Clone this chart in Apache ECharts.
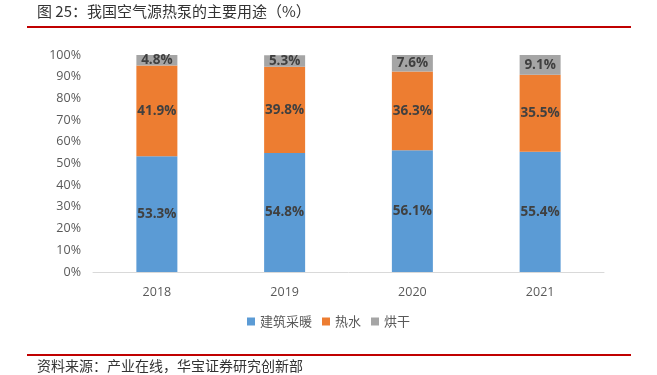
<!DOCTYPE html>
<html><head><meta charset="utf-8">
<script src="https://cdn.jsdelivr.net/npm/echarts@6/dist/echarts.min.js"></script>
<style>html,body{margin:0;padding:0;background:#fff}#c{width:657px;height:375px}</style>
</head><body><div id="c"></div>
<script>
const categories = ['2018', '2019', '2020', '2021'];
const heating = [53.3, 54.8, 56.1, 55.4];
const hotWater = [41.9, 39.8, 36.3, 35.5];
const drying = [4.8, 5.3, 7.6, 9.1];
const seriesNames = ['建筑采暖', '热水', '烘干'];
const yTicks = [0, 10, 20, 30, 40, 50, 60, 70, 80, 90, 100];

const chart = echarts.init(document.getElementById('c'));
const labelCfg = {
  show: true, position: 'inside', formatter: p => p.value.toFixed(1) + '%',
  color: '#404040', fontWeight: 'bold', fontSize: 13.5, fontFamily: 'Open Sans, sans-serif'
};
const colors = ['#5B9BD5', '#ED7D31', '#A5A5A5'];
const datas = [heating, hotWater, drying];
chart.setOption({
  animation: false,
  graphic: [
    {type: 'text', left: 37, top: 4, style: {text: '图 25：我国空气源热泵的主要用途（%）', fill: '#333', font: '15px "Noto Sans CJK SC"'}},
    {type: 'rect', shape: {x: 27, y: 26, width: 604, height: 2}, style: {fill: '#C00000'}},
    {type: 'rect', shape: {x: 27, y: 354, width: 604, height: 2}, style: {fill: '#C00000'}},
    {type: 'text', left: 37, top: 359, style: {text: '资料来源：产业在线，华宝证券研究创新部', fill: '#333', font: '14px "Noto Sans CJK SC"'}}
  ],
  grid: {left: 93, right: 53, top: 55, bottom: 103},
  legend: {
    data: seriesNames, bottom: 42, left: 'center', itemWidth: 8, itemHeight: 8, itemGap: 10,
    icon: 'rect', textStyle: {color: '#595959', fontSize: 13, fontFamily: 'Noto Sans CJK SC'}
  },
  xAxis: {
    type: 'category', data: categories,
    axisLine: {lineStyle: {color: '#D9D9D9'}}, axisTick: {show: false},
    axisLabel: {color: '#595959', fontSize: 12.5, margin: 14, fontFamily: 'Open Sans, sans-serif'}
  },
  yAxis: {
    type: 'value', min: 0, max: 100, interval: 10,
    axisLine: {show: false}, axisTick: {show: false}, splitLine: {show: false},
    axisLabel: {color: '#595959', fontSize: 12.5, margin: 12, formatter: v => v + '%', fontFamily: 'Open Sans, sans-serif'}
  },
  series: seriesNames.map((n, i) => ({
    name: n, type: 'bar', stack: 'a', data: datas[i], barWidth: 41,
    itemStyle: {color: colors[i]}, label: labelCfg
  }))
});
</script></body></html>
